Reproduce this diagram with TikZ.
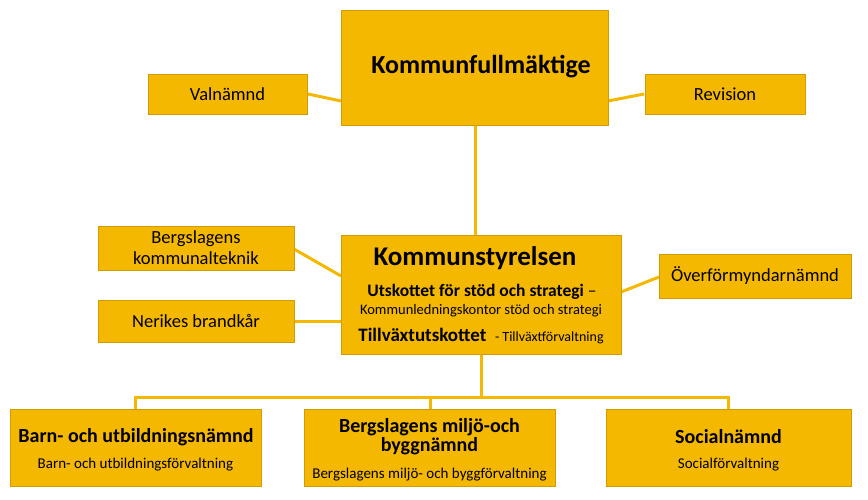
\documentclass[tikz,border=0pt]{standalone}
\usepackage{fontspec}
\setmainfont{Carlito}
\begin{document}
\begin{tikzpicture}[x=1pt,y=-1pt,
  box/.style={draw=gold!85!black,line width=0.8pt,fill=gold,inner sep=0pt},
  conn/.style={draw=gold,line width=3pt},
  lbl/.style={font=\fontsize{18.5}{21}\selectfont,align=center}]
\definecolor{gold}{HTML}{F5B800}
\useasboundingbox (0,0) rectangle (868,499);
\fill[white] (0,0) rectangle (868,499);
\coordinate (bus) at (481,397);
\draw[conn] (308,94) -- (341,101);
\draw[conn] (644,94) -- (608,101);
\draw[conn] (475,125) -- (475,235);
\draw[conn] (294,249) -- (341,276);
\draw[conn] (294,321) -- (341,321);
\draw[conn] (659,277) -- (621,292);
\draw[conn] (481,354) -- (481,397);
\draw[conn] (135,409) -- (135,397) -- (728,397) -- (728,409);
\draw[conn] (430,397) -- (430,409);
\node[box,minimum width=267pt,minimum height=115pt] (kf) at (474.5,67.5) {};
\node[font=\fontsize{26}{28}\selectfont\bfseries] at (481,67) {Kommunfullmäktige};
\node[box,minimum width=159pt,minimum height=40pt,lbl] (val) at (227.5,94) {Valnämnd};
\node[box,minimum width=160pt,minimum height=40pt,lbl] (rev) at (725,94) {Revision};
\node[box,minimum width=280pt,minimum height=119pt] (ks) at (481,294.5) {};
\node[font=\fontsize{27}{28}\selectfont\bfseries] at (475,258) {Kommunstyrelsen};
\node[font=\fontsize{17.5}{19}\selectfont] at (482,292) {\textbf{Utskottet för stöd och strategi} –};
\node[font=\fontsize{14.5}{16}\selectfont] at (481,311) {Kommunledningskontor stöd och strategi};
\node[font=\fontsize{19}{21}\selectfont] at (481,336) {\textbf{Tillväxtutskottet} \ {\fontsize{14}{16}\selectfont - Tillväxtförvaltning}};
\node[box,minimum width=196pt,minimum height=44pt,lbl] (bkt) at (196,248) {Bergslagens\\kommunalteknik};
\node[box,minimum width=196pt,minimum height=42pt,lbl] (nb) at (196,321) {Nerikes brandkår};
\node[box,minimum width=192pt,minimum height=44pt,lbl] (ov) at (755,276) {Överförmyndarnämnd};
\node[box,minimum width=251pt,minimum height=77pt] (bu) at (135.5,447.5) {};
\node[font=\fontsize{20}{22}\selectfont\bfseries] at (136,437) {Barn- och utbildningsnämnd};
\node[font=\fontsize{15}{17}\selectfont] at (135.5,465) {Barn- och utbildningsförvaltning};
\node[box,minimum width=251pt,minimum height=77pt] (bm) at (429.5,447.5) {};
\node[font=\fontsize{20}{22}\selectfont\bfseries,align=center] at (429.5,437) {Bergslagens miljö-och\\[-3pt]byggnämnd};
\node[font=\fontsize{15}{17}\selectfont] at (429.5,475) {Bergslagens miljö- och byggförvaltning};
\node[box,minimum width=245pt,minimum height=77pt] (so) at (728.5,447.5) {};
\node[font=\fontsize{20}{22}\selectfont\bfseries] at (728.5,437) {Socialnämnd};
\node[font=\fontsize{15}{17}\selectfont] at (728.5,465) {Socialförvaltning};
\end{tikzpicture}
\end{document}
